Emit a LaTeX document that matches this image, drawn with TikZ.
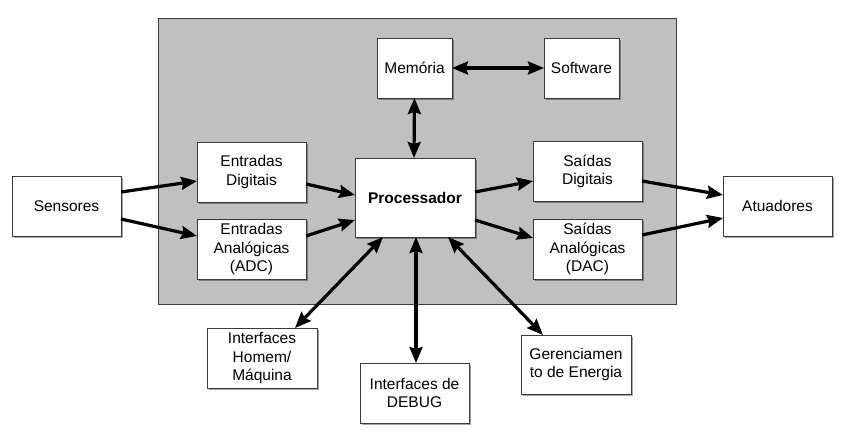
\documentclass[tikz,border=0pt]{standalone}
\usepackage{fontspec}
\setmainfont{Liberation Sans}
\usetikzlibrary{arrows.meta,shadows}
\definecolor{panel}{HTML}{C0C0C0}
\definecolor{edge}{HTML}{3A3A3A}
\tikzset{
  box/.style={draw=edge, line width=0.9pt, fill=white, inner sep=2pt, outer sep=0pt,
    align=center, font=\fontsize{15.5}{18.5}\selectfont,
    drop shadow={shadow xshift=1.6pt, shadow yshift=-1.6pt, fill=black, opacity=0.35}},
  tip/.tip={Stealth[length=16pt,width=13pt,inset=2pt]},
  arr/.style={line width=3.2pt, -tip},
  barr/.style={line width=3.2pt, tip-tip}
}
\begin{document}
\begin{tikzpicture}[x=1pt,y=-1pt]
\useasboundingbox (0,0) rectangle (841,432);
\draw[edge, line width=0.9pt, fill=panel] (158,18) rectangle (676,304);

\node[box, minimum width=109pt, minimum height=60pt] (sens) at (66.5,206) {Sensores};
\node[box, minimum width=109pt, minimum height=60pt] (entd) at (251.5,172) {Entradas\\Digitais};
\node[box, minimum width=109pt, minimum height=60pt] (enta) at (251.5,249) {Entradas\\Analógicas\\(ADC)};
\node[box, minimum width=120pt, minimum height=79pt, font=\fontsize{15.5}{18.5}\selectfont\bfseries] (proc) at (415,197.5) {Processador};
\node[box, minimum width=75pt, minimum height=60pt] (mem) at (414.5,68) {Memória};
\node[box, minimum width=75pt, minimum height=60pt] (soft) at (581.5,68) {Software};
\node[box, minimum width=109pt, minimum height=60pt] (said) at (587.5,171.5) {Saídas\\Digitais};
\node[box, minimum width=109pt, minimum height=60pt] (saia) at (587.5,249) {Saídas\\Analógicas\\(DAC)};
\node[box, minimum width=109pt, minimum height=60pt] (atu) at (777.5,206) {Atuadores};
\node[box, minimum width=110pt, minimum height=60pt] (ihm) at (262,358) {Interfaces\\Homem/\\Máquina};
\node[box, minimum width=109pt, minimum height=60pt] (dbg) at (414.5,393) {Interfaces de\\DEBUG};
\node[box, minimum width=110pt, minimum height=59pt] (ger) at (576,364.5) {Gerenciamen\\to de Energia};

\draw[arr] ([yshift=14pt]sens.east) -- ([yshift=-9pt]entd.west);
\draw[arr] ([yshift=-13pt]sens.east) -- ([yshift=13pt]enta.west);
\draw[arr] ([yshift=-12pt]entd.east) -- ([yshift=2.5pt]proc.west);
\draw[arr] ([yshift=13pt]enta.east) -- ([yshift=-22.5pt]proc.west);
\draw[arr] ([yshift=5.5pt]proc.east) -- ([yshift=-9.5pt]said.west);
\draw[arr] ([yshift=-22.5pt]proc.east) -- ([yshift=11pt]saia.west);
\draw[arr] ([yshift=-9.5pt]said.east) -- ([yshift=11pt]atu.west);
\draw[arr] ([yshift=14pt]saia.east) -- ([yshift=-12pt]atu.west);
\draw[barr] (mem.east) -- (soft.west);
\draw[barr] ([xshift=-1pt]proc.north) -- (mem.south);
\draw[barr] ([xshift=1pt]proc.south) -- ([xshift=1.5pt]dbg.north);
\draw[barr] ([xshift=-32pt]proc.south) -- ([xshift=33pt]ihm.north);
\draw[barr] ([xshift=33pt]proc.south) -- ([xshift=-33pt]ger.north);
\end{tikzpicture}
\end{document}
